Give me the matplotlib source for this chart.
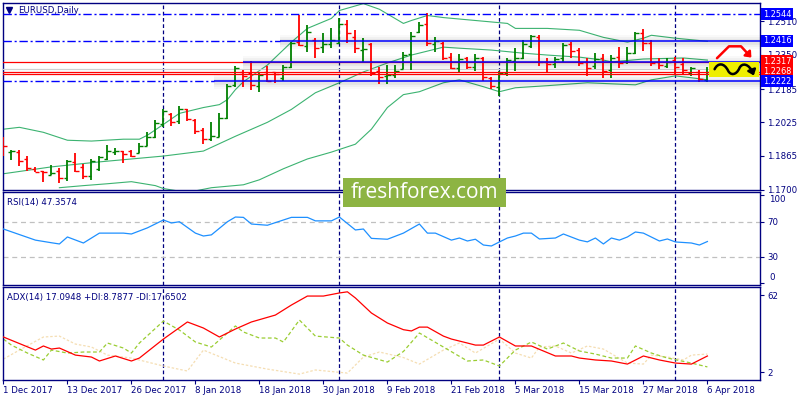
import matplotlib
matplotlib.use("Agg")
import matplotlib.pyplot as plt
import matplotlib.transforms as mtrans
from matplotlib.patches import Rectangle, FancyArrowPatch
from matplotlib.path import Path

# EURUSD daily bars, 1 Dec 2017 .. 6 Apr 2018 (bar index = trading day)
opens = [1.1944, 1.1882, 1.1882, 1.1849, 1.1802, 1.1792, 1.1773, 1.1792, 1.1759, 1.1835,
         1.1811, 1.1768, 1.1802, 1.1849, 1.1882, 1.1887, 1.1887, 1.1878, 1.1911, 1.1954,
         1.2015, 1.2063, 1.2030, 1.2087, 1.2034, 1.1987, 1.1944, 1.1954, 1.2044, 1.2205,
         1.2267, 1.2262, 1.2201, 1.2267, 1.2267, 1.2239, 1.2291, 1.2410, 1.2391, 1.2419,
         1.2386, 1.2400, 1.2405, 1.2495, 1.2433, 1.2372, 1.2400, 1.2272, 1.2248, 1.2253,
         1.2281, 1.2353, 1.2457, 1.2495, 1.2400, 1.2405, 1.2338, 1.2286, 1.2334, 1.2291,
         1.2334, 1.2239, 1.2196, 1.2262, 1.2319, 1.2334, 1.2391, 1.2433, 1.2315, 1.2305,
         1.2334, 1.2400, 1.2372, 1.2315, 1.2296, 1.2334, 1.2277, 1.2338, 1.2315, 1.2357,
         1.2452, 1.2405, 1.2315, 1.2296, 1.2324, 1.2305, 1.2262, 1.2267, 1.2229]
highs = [1.1954, 1.1892, 1.1892, 1.1863, 1.1811, 1.1792, 1.1821, 1.1806, 1.1844, 1.1878,
         1.1825, 1.1849, 1.1863, 1.1916, 1.1901, 1.1887, 1.1892, 1.1925, 1.1977, 1.2034,
         1.2087, 1.2072, 1.2101, 1.2091, 1.2039, 1.1996, 1.2025, 1.2068, 1.2210, 1.2296,
         1.2277, 1.2319, 1.2267, 1.2296, 1.2267, 1.2300, 1.2410, 1.2540, 1.2490, 1.2429,
         1.2452, 1.2476, 1.2524, 1.2514, 1.2467, 1.2429, 1.2405, 1.2291, 1.2300, 1.2300,
         1.2362, 1.2457, 1.2505, 1.2552, 1.2433, 1.2410, 1.2357, 1.2353, 1.2338, 1.2353,
         1.2338, 1.2243, 1.2272, 1.2334, 1.2381, 1.2419, 1.2443, 1.2443, 1.2334, 1.2338,
         1.2405, 1.2410, 1.2381, 1.2334, 1.2357, 1.2353, 1.2348, 1.2386, 1.2386, 1.2457,
         1.2471, 1.2419, 1.2334, 1.2334, 1.2338, 1.2334, 1.2291, 1.2277, 1.2291]
lows = [1.1863, 1.1844, 1.1816, 1.1792, 1.1787, 1.1740, 1.1773, 1.1735, 1.1745, 1.1787,
        1.1754, 1.1749, 1.1792, 1.1844, 1.1868, 1.1830, 1.1859, 1.1878, 1.1911, 1.1949,
        1.2001, 1.2006, 1.2015, 1.2030, 1.1968, 1.1920, 1.1935, 1.1954, 1.2039, 1.2196,
        1.2196, 1.2182, 1.2172, 1.2220, 1.2215, 1.2224, 1.2286, 1.2391, 1.2362, 1.2334,
        1.2357, 1.2381, 1.2400, 1.2405, 1.2357, 1.2315, 1.2248, 1.2210, 1.2210, 1.2239,
        1.2281, 1.2277, 1.2452, 1.2391, 1.2362, 1.2324, 1.2281, 1.2262, 1.2281, 1.2272,
        1.2224, 1.2186, 1.2153, 1.2248, 1.2272, 1.2329, 1.2381, 1.2296, 1.2267, 1.2286,
        1.2315, 1.2334, 1.2296, 1.2248, 1.2281, 1.2239, 1.2239, 1.2286, 1.2305, 1.2353,
        1.2367, 1.2296, 1.2281, 1.2286, 1.2258, 1.2258, 1.2248, 1.2220, 1.2220]
closes = [1.1911, 1.1887, 1.1840, 1.1806, 1.1787, 1.1787, 1.1783, 1.1759, 1.1840, 1.1792,
          1.1768, 1.1840, 1.1859, 1.1887, 1.1887, 1.1873, 1.1863, 1.1911, 1.1954, 1.2020,
          1.2077, 1.2025, 1.2087, 1.2039, 1.1982, 1.1944, 1.1958, 1.2044, 1.2201, 1.2286,
          1.2248, 1.2205, 1.2253, 1.2224, 1.2258, 1.2291, 1.2405, 1.2395, 1.2457, 1.2381,
          1.2400, 1.2419, 1.2495, 1.2452, 1.2381, 1.2376, 1.2262, 1.2243, 1.2253, 1.2272,
          1.2348, 1.2438, 1.2490, 1.2405, 1.2414, 1.2334, 1.2286, 1.2329, 1.2291, 1.2334,
          1.2243, 1.2201, 1.2262, 1.2324, 1.2334, 1.2400, 1.2438, 1.2315, 1.2305, 1.2329,
          1.2395, 1.2367, 1.2310, 1.2286, 1.2329, 1.2272, 1.2334, 1.2310, 1.2357, 1.2452,
          1.2405, 1.2310, 1.2300, 1.2315, 1.2291, 1.2277, 1.2286, 1.2234, 1.2267]

# Bollinger bands (bar index, price)
bb_up_bar = [0, 2, 5, 8, 11, 15, 17, 18, 20, 22, 25, 27, 28, 29, 30, 33, 36, 38, 41, 42,
             45, 47, 50, 51, 53, 55, 59, 63, 64, 68, 72, 75, 78, 80, 81, 84, 88]
bb_up = [1.1992, 1.2001, 1.1977, 1.1939, 1.1935, 1.1944, 1.1944, 1.1963, 1.2015, 1.2068,
         1.2096, 1.2110, 1.2134, 1.2182, 1.2220, 1.2300, 1.2410, 1.2476, 1.2524, 1.2562,
         1.2595, 1.2568, 1.2500, 1.2514, 1.2538, 1.2528, 1.2514, 1.2500, 1.2476, 1.2476,
         1.2467, 1.2433, 1.2410, 1.2429, 1.2443, 1.2429, 1.2414]
bb_mid_bar = [0, 6, 12, 20, 25, 29, 33, 36, 39, 42, 45, 48, 51, 55, 57, 61, 65, 68, 72, 75,
              76, 80, 85, 88]
bb_mid = [1.1778, 1.1811, 1.1835, 1.1863, 1.1887, 1.1958, 1.2025, 1.2087, 1.2167, 1.2215,
          1.2267, 1.2310, 1.2348, 1.2386, 1.2381, 1.2372, 1.2357, 1.2348, 1.2338, 1.2324,
          1.2315, 1.2329, 1.2334, 1.2324]
bb_lo_bar = [7, 10, 13, 16, 19, 20, 23, 26, 30, 32, 35, 38, 41, 44, 46, 48, 50, 52, 55, 57,
             60, 62, 64, 68, 73, 79, 81, 84, 86, 88]
bb_lo = [1.1711, 1.1721, 1.1730, 1.1740, 1.1721, 1.1707, 1.1688, 1.1711, 1.1725, 1.1749,
         1.1802, 1.1849, 1.1882, 1.1920, 1.1992, 1.2096, 1.2158, 1.2172, 1.2215, 1.2229,
         1.2196, 1.2172, 1.2191, 1.2201, 1.2215, 1.2205, 1.2229, 1.2248, 1.2239, 1.2229]

# RSI(14)
rsi_bar = [0, 4, 6, 7, 8, 10, 12, 15, 16, 18, 20, 21, 22, 24, 25, 26, 28, 29, 30, 31,
           33, 36, 38, 39, 41, 42, 44, 45, 46, 48, 50, 52, 53, 54, 56, 57, 58, 59, 60, 61,
           62, 63, 64, 65, 66, 67, 69, 70, 72, 73, 74, 75, 76, 77, 78, 79, 80, 82, 83, 84,
           86, 87, 88]
rsi = [61.7, 49, 46, 44.6, 52.6, 45.7, 57, 57, 56, 63, 72, 68.6, 70, 57, 53.7, 55, 70, 75.4, 75, 67.4,
       66, 75, 75, 71, 71, 75.4, 60.6, 61.7, 51, 50, 57, 67.4, 57, 57, 49, 51.4, 48, 50, 43.4, 42.3,
       46.9, 51.4, 53.7, 57, 57, 50.3, 51.4, 56, 49, 47, 51.4, 44.6, 51.4, 49, 52.6, 58.3, 57, 48, 50.3, 46.9,
       45.7, 43.4, 47.4]

# ADX(14), +DI, -DI
adx_bar = [0, 4, 5, 6, 7, 9, 11, 12, 14, 16, 17, 20, 23, 25, 27, 29, 31, 34, 36, 38,
           40, 42, 43, 44, 46, 48, 50, 51, 52, 53, 55, 56, 58, 59, 60, 62, 64, 66, 69, 71,
           72, 74, 76, 78, 80, 82, 84, 86, 88]
adx = [29.3, 19.1, 22.3, 19.9, 20.7, 15.2, 13.7, 10.6, 14.5, 10.6, 12.9, 27.7, 41, 36.3, 29.3, 35.5, 41, 46.4, 54.2, 61.2,
       61.2, 63.6, 64.5, 59.7, 48, 40.2, 35, 34, 37, 37, 30, 27.7, 24.6, 23, 23, 29.3, 22.3, 22.3, 14.5, 14.5,
       12.9, 11.4, 10.6, 8.2, 14.5, 11.4, 9, 8.2, 14.5]
pdi_bar = [0, 1, 3, 5, 6, 8, 10, 12, 13, 15, 16, 17, 20, 22, 24, 26, 28, 29, 30, 32,
           34, 35, 37, 39, 42, 43, 45, 48, 50, 52, 55, 58, 60, 62, 64, 66, 68, 70, 72, 74,
           76, 78, 79, 81, 83, 86, 88]
pdi = [27.7, 23, 16.8, 11.4, 19.1, 16.8, 17.6, 17.6, 24.6, 20.7, 16.8, 24.6, 41.7, 34.7, 25.4, 21.5, 32.4, 37.9, 33.2, 28.5,
       28.5, 25.4, 42.5, 30, 28.5, 23, 15.2, 9.8, 18, 32.4, 21.5, 10.6, 11.4, 6.7, 19.1, 25.4, 19.9, 24.6, 18.4, 16,
       12.9, 12.9, 22.3, 16.8, 12.9, 9, 6]
mdi_bar = [0, 2, 5, 7, 9, 11, 13, 16, 20, 23, 25, 29, 33, 37, 39, 43, 45, 47, 50, 52,
           55, 57, 59, 62, 64, 66, 67, 69, 71, 73, 75, 78, 80, 81, 83, 85, 86, 88]
mdi = [12.1, 19.1, 29.3, 30, 23.8, 21.5, 15.2, 12.9, 6.7, 2.8, 19.1, 9, 4.3, 0.4, 3.6, 1.2, 13.7, 17.6, 13.3, 8.2,
       19.1, 24.6, 16.8, 27.7, 16.8, 12.9, 21.5, 22.3, 16.8, 22.3, 19.9, 9, 8.2, 15.2, 13.7, 11.4, 15.2, 16]

date_labels = ["1 Dec 2017", "13 Dec 2017", "26 Dec 2017", "8 Jan 2018", "18 Jan 2018", "30 Jan 2018",
               "9 Feb 2018", "21 Feb 2018", "5 Mar 2018", "15 Mar 2018", "27 Mar 2018", "6 Apr 2018"]
month_starts = [20, 42, 62, 84]
price_ticks = [1.2510, 1.2350, 1.2185, 1.2025, 1.1865, 1.1700]

# levels drawn by the analyst
level_vals = [1.2544, 1.2416, 1.2317, 1.2268, 1.2222]
level_cols = ["#0000ff", "#0000ff", "#ff0000", "#ff0000", "#0000ff"]
zone_lines = [1.2416, 1.2317, 1.2222]
zone_start = [34.6, 30.0, 26.3]
red_lines = [1.2317, 1.2268, 1.2257]

navy = "#000080"
XMAX = 94.575

fig = plt.figure(figsize=(8, 4), dpi=100)


def panel(top, bottom):
    return [3 / 800, 1 - bottom / 400, 757 / 800, (bottom - top) / 400]


ax = fig.add_axes(panel(3, 190))
ax_rsi = fig.add_axes(panel(192, 285))
ax_adx = fig.add_axes(panel(287, 380))

for a in (ax, ax_rsi, ax_adx):
    a.set_xlim(-0.05, XMAX)
    for s in a.spines.values():
        s.set_color(navy)
        s.set_linewidth(1.0)
    a.yaxis.tick_right()
    a.tick_params(axis="y", right=True, left=False, length=3, width=0.8, color=navy,
                  labelcolor=navy, labelsize=6.2, pad=2)
    a.tick_params(axis="x", bottom=False, labelbottom=False)
    for m in month_starts:
        a.axvline(m, color=navy, lw=0.9, ls=(0, (3, 2)), zorder=1)

# ---- main price panel
ax.set_ylim(1.1700, 1.2598)
ax.set_yticks(price_ticks)
ax.set_yticklabels([f"{v:.4f}" for v in price_ticks])

ax.plot(bb_up_bar, bb_up, color="#3cb371", lw=0.8, zorder=2)
ax.plot(bb_mid_bar, bb_mid, color="#3cb371", lw=0.8, zorder=2)
ax.plot(bb_lo_bar, bb_lo, color="#3cb371", lw=0.8, zorder=2)

for i in range(len(opens)):
    col = "#008000" if closes[i] >= opens[i] else "#ff0000"
    ax.vlines(i, lows[i], highs[i], color=col, lw=1.3, zorder=4)
    ax.hlines(opens[i], i - 0.4, i, color=col, lw=1.0, zorder=4)
    ax.hlines(closes[i], i, i + 0.4, color=col, lw=1.0, zorder=4)

# horizontal levels
ax.axhline(1.2544, color="#0000ff", lw=1.0, ls=(0, (6, 2, 1.5, 2)), zorder=5)
ax.axhline(1.2281, color="#d0d0d0", lw=0.9, zorder=3)
for y in red_lines:
    ax.axhline(y, color="#ff0000", lw=0.9, zorder=5)
for y, x0 in zip(zone_lines, zone_start):
    for w, al in [(10, 0.025), (7, 0.035), (4, 0.05)]:
        ax.hlines(y - 0.0005, x0, XMAX, color="black", lw=w, alpha=al, zorder=3)
    if y != 1.2317:
        ax.hlines(y, -0.05, x0, color="#0000ff", lw=1.0, ls=(0, (6, 2, 1.5, 2)), zorder=5)
    ax.hlines(y, x0, XMAX, color="#0000ff", lw=1.1, zorder=6)

# price labels on the right axis
ytr = mtrans.blended_transform_factory(ax.transAxes, ax.transData)
for v, c in zip(level_vals, level_cols):
    ax.text(1.004, v, f"{v:.4f}", transform=ytr, color="white", fontsize=5.9, va="center",
            ha="left", clip_on=False, zorder=10,
            bbox=dict(boxstyle="square,pad=0.2", fc=c, ec="none"))

# analyst sketch at the right edge
ax.add_patch(Rectangle((88.25, 1.2243), 6.15, 0.0072, fc="#eeee00", ec="none", zorder=7))
red_path = Path([(89.2, 1.2333), (90.7, 1.2390), (92.2, 1.2390), (93.5, 1.2336)])
ax.add_patch(FancyArrowPatch(path=red_path, arrowstyle="-|>,head_length=3,head_width=2.5",
                             color="#ff0000", lw=1.8, zorder=8))
wave = Path([(88.9, 1.2280), (89.3, 1.2312), (90.1, 1.2312), (90.6, 1.2272),
             (90.9, 1.2250), (91.6, 1.2250), (92.0, 1.2285),
             (92.3, 1.2312), (93.2, 1.2310), (93.8, 1.2250)],
            [Path.MOVETO, Path.CURVE4, Path.CURVE4, Path.CURVE4,
             Path.CURVE4, Path.CURVE4, Path.CURVE4,
             Path.CURVE4, Path.CURVE4, Path.CURVE4])
ax.add_patch(FancyArrowPatch(path=wave, arrowstyle="-|>,head_length=3,head_width=2.5",
                             color="black", lw=1.8, zorder=8))

ax.plot([0.008], [0.962], marker="v", color=navy, ms=4, transform=ax.transAxes, clip_on=False)
ax.text(0.02, 0.962, "EURUSD,Daily", transform=ax.transAxes, color=navy, fontsize=6.2,
        va="center", ha="left")

# ---- RSI panel
ax_rsi.set_ylim(-2.3, 104)
ax_rsi.set_yticks([100, 70, 30, 0])
ax_rsi.set_yticklabels(["", "70", "30", ""])
ax_rsi.text(1.012, 0.97, "100", transform=ax_rsi.transAxes, color=navy, fontsize=6.2,
            va="top", ha="left")
ax_rsi.text(1.012, 0.03, "0", transform=ax_rsi.transAxes, color=navy, fontsize=6.2,
            va="bottom", ha="left")
for lvl in (70, 30):
    ax_rsi.axhline(lvl, color="#c0c0c0", lw=0.9, ls=(0, (4, 3)), zorder=1)
ax_rsi.plot(rsi_bar, rsi, color="#1e90ff", lw=0.9, zorder=3)
ax_rsi.text(0.005, 0.89, "RSI(14) 47.3574", transform=ax_rsi.transAxes, color=navy,
            fontsize=6.2, va="center", ha="left")

# ---- ADX panel
ax_adx.set_ylim(-4.2, 68.25)
ax_adx.set_yticks([62, 2])
ax_adx.plot(mdi_bar, mdi, color="#f5deb3", lw=0.9, ls=(0, (2, 1.5)), zorder=2)
ax_adx.plot(pdi_bar, pdi, color="#9acd32", lw=0.9, ls=(0, (3, 2)), zorder=2)
ax_adx.plot(adx_bar, adx, color="#ff0000", lw=0.9, zorder=3)
ax_adx.text(0.005, 0.89, "ADX(14) 17.0948 +DI:8.7877 -DI:17.6502", transform=ax_adx.transAxes,
            color=navy, fontsize=6.2, va="center", ha="left")

ax_adx.set_xticks(range(0, 89, 8))
ax_adx.set_xticklabels(date_labels)
ax_adx.tick_params(axis="x", bottom=True, labelbottom=True, length=3, width=0.8, color=navy,
                   labelcolor=navy, labelsize=6.2, pad=1)
for lab in ax_adx.get_xticklabels():
    lab.set_ha("left")

# ---- watermark
fig.add_artist(Rectangle((343 / 800, 193 / 400), 163 / 800, 29 / 400, transform=fig.transFigure,
                         fc="#8db443", ec="none", zorder=5))
fig.text(424.5 / 800, 207.5 / 400, "freshforex.com", color="white", fontsize=15,
         family=["Open Sans", "DejaVu Sans"], ha="center", va="center", zorder=6)

fig.savefig("out.png", dpi=100)
